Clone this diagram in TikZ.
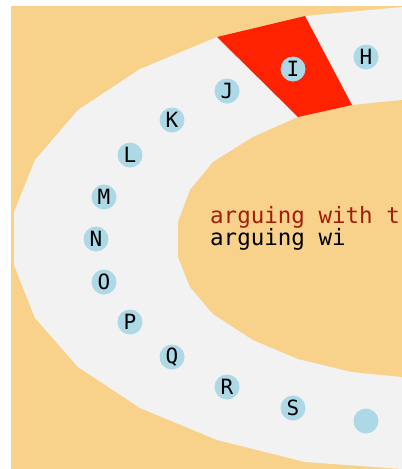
\documentclass[tikz,border=0pt]{standalone}
\usepackage{fontspec}
\setmonofont{DejaVu Sans Mono}
\definecolor{bgorange}{RGB}{248,209,139}
\definecolor{bandgray}{RGB}{242,242,242}
\definecolor{segred}{RGB}{255,34,0}
\definecolor{nodeblue}{RGB}{173,216,230}
\definecolor{txtred}{RGB}{160,30,12}
\begin{document}
\begin{tikzpicture}[x=1pt,y=-1pt,
  stop/.style={circle,fill=nodeblue,minimum size=25pt,inner sep=0pt,font=\fontsize{21}{21}\selectfont\ttfamily},
  label txt/.style={anchor=base west,inner sep=0pt,font=\fontsize{22.5}{22}\selectfont\ttfamily}]
\useasboundingbox (0,0) rectangle (402,469);
\begin{scope}
\clip (11,6) rectangle (402,469);
\fill[bgorange] (11,6) rectangle (402,469);
\fill[bandgray] (402,7) -- (305,16) -- (217,37) -- (140,69) -- (78,110) -- (35,160) -- (14,212) -- (14,265) -- (35,318) -- (78,367) -- (140,408) -- (217,440) -- (305,462) -- (402,469) -- cycle;
\fill[bgorange] (402,100) -- (352,105) -- (298,117) -- (253,137) -- (213,162) -- (190,190) -- (178,222) -- (178,257) -- (190,287) -- (213,314) -- (253,340) -- (298,359) -- (352,372) -- (402,377) -- cycle;
\fill[segred] (217,37) -- (305,16) -- (352,105) -- (298,117) -- cycle;
\end{scope}
\node[stop] (h) at (366,57) {H};
\node[stop] (i) at (293,69) {I};
\node[stop] (j) at (227,91) {J};
\node[stop] (k) at (172,120) {K};
\node[stop] (l) at (130,155) {L};
\node[stop] (m) at (104,197) {M};
\node[stop] (n) at (96,239) {N};
\node[stop] (o) at (104,282) {O};
\node[stop] (p) at (130,322) {P};
\node[stop] (q) at (172,357) {Q};
\node[stop] (r) at (227,387) {R};
\node[stop] (s) at (293,408) {S};
\node[stop] (t) at (366,421) {};
\node[label txt,text=txtred] (line1) at (210,223.5) {arguing with t};
\node[label txt,text=black] (line2) at (210,245) {arguing wi};
\end{tikzpicture}
\end{document}
